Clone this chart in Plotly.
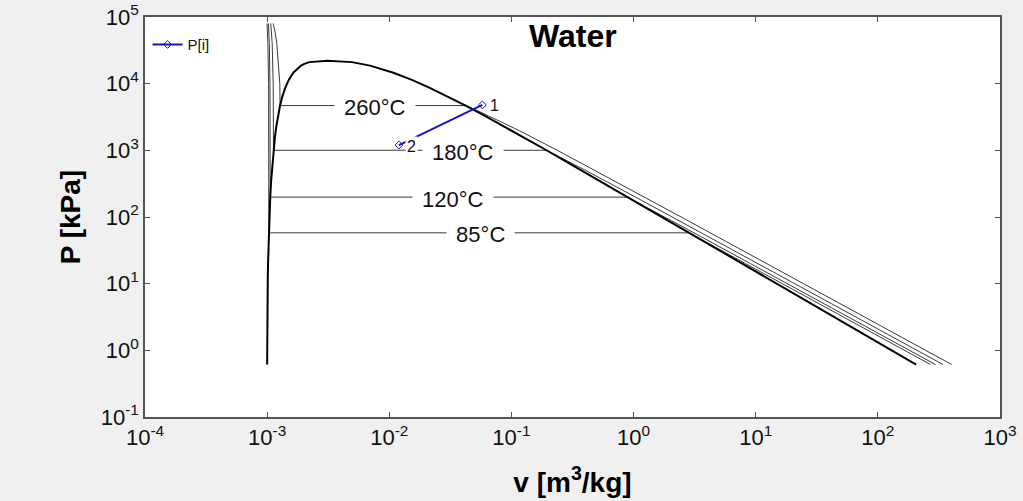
import math
import plotly.graph_objects as go

# ---------------- data ----------------
# Saturation table for water
sat_T = [0.01, 10, 20, 30, 40, 50, 60, 70, 80, 90, 100, 120, 140, 160, 180, 200,
         220, 240, 260, 280, 300, 320, 340, 360, 365, 370, 373.95]
sat_P = [0.6117, 1.2281, 2.3392, 4.2469, 7.3851, 12.352, 19.947, 31.202, 47.416,
         70.183, 101.42, 198.67, 361.53, 618.23, 1002.8, 1554.9, 2319.6, 3346.9,
         4692.3, 6416.6, 8587.9, 11284, 14601, 18666, 19822, 21044, 22064]
sat_vf = [0.001000, 0.001000, 0.001002, 0.001004, 0.001008, 0.001012, 0.001017,
          0.001023, 0.001029, 0.001036, 0.001043, 0.001060, 0.001080, 0.001102,
          0.001127, 0.001157, 0.001190, 0.001229, 0.001276, 0.001332, 0.001404,
          0.001499, 0.001638, 0.001895, 0.002015, 0.002217, 0.003106]
sat_vg = [206.0, 106.3, 57.76, 32.88, 19.515, 12.026, 7.6672, 5.0395, 3.4053,
          2.3593, 1.6720, 0.89133, 0.50850, 0.30706, 0.19384, 0.12721, 0.08609,
          0.05965, 0.04221, 0.03017, 0.02166, 0.01549, 0.01080, 0.006950,
          0.006009, 0.004953, 0.003106]

# Isotherms (v in m3/kg, P in kPa)
iso_85_P = [80000, 40000, 10000, 57.868, 57.868, 50, 20, 10, 5, 2, 1, 0.6117]
iso_85_v = [0.000998, 0.001014, 0.001028, 0.001032, 2.8261, 3.29, 8.25, 16.52,
            33.05, 82.6, 165.3, 270.2]
iso_120_P = [80000, 40000, 10000, 198.67, 198.67, 150, 100, 50, 20, 10, 5, 2, 1, 0.6117]
iso_120_v = [0.001025, 0.001042, 0.001055, 0.001060, 0.89133, 1.1884, 1.7922,
             3.617, 9.06, 18.13, 36.28, 90.7, 181.4, 296.6]
iso_180_P = [80000, 40000, 10000, 1002.8, 1002.8, 800, 500, 200, 100, 50, 20, 10,
             5, 2, 1, 0.6117]
iso_180_v = [0.00107, 0.00110, 0.001121, 0.001127, 0.19384, 0.2471, 0.4045,
             1.0322, 2.0783, 4.17, 10.44, 20.9, 41.8, 104.5, 209.1, 341.9]
iso_260_P = [80000, 60000, 40000, 20000, 10000, 4692.3, 4692.3, 4000, 3000, 2000,
             1000, 500, 200, 100, 50, 20, 10, 5, 2, 1, 0.6117]
iso_260_v = [0.00112, 0.00116, 0.00120, 0.00124, 0.00127, 0.001276, 0.04221,
             0.0517, 0.0728, 0.1143, 0.2378, 0.4841, 1.2224, 2.4528, 4.914,
             12.29, 24.59, 49.2, 123.0, 246.0, 402.2]

iso_labels = ["85°C", "120°C", "180°C", "260°C"]
iso_psat = [57.868, 198.67, 1002.8, 4692.3]

# State points P[i]
state_names = ["1", "2"]
state_v = [0.0578, 0.0120]
state_P = [4800, 1200]

x_tick_vals = [1e-4, 1e-3, 1e-2, 1e-1, 1e0, 1e1, 1e2, 1e3]
x_tick_text = ["10<sup>-4</sup>", "10<sup>-3</sup>", "10<sup>-2</sup>", "10<sup>-1</sup>",
               "10<sup>0</sup>", "10<sup>1</sup>", "10<sup>2</sup>", "10<sup>3</sup>"]
y_tick_vals = [1e-1, 1e0, 1e1, 1e2, 1e3, 1e4, 1e5]
y_tick_text = ["10<sup>-1</sup>", "10<sup>0</sup>", "10<sup>1</sup>", "10<sup>2</sup>",
               "10<sup>3</sup>", "10<sup>4</sup>", "10<sup>5</sup>"]

# label placement (layout only)
label_v = [0.0555, 0.0333, 0.0402, 0.00765]

# ---------------- figure ----------------
FONT = "Arial, Liberation Sans, sans-serif"
fig = go.Figure()

iso_sets = [(iso_85_v, iso_85_P), (iso_120_v, iso_120_P),
            (iso_180_v, iso_180_P), (iso_260_v, iso_260_P)]
for v, p in iso_sets:
    fig.add_trace(go.Scatter(x=v, y=p, mode="lines",
                             line=dict(color="#3a3a3a", width=1),
                             showlegend=False, hoverinfo="skip"))

dome_v = sat_vf + sat_vg[::-1]
dome_P = sat_P + sat_P[::-1]
fig.add_trace(go.Scatter(x=dome_v, y=dome_P, mode="lines",
                         line=dict(color="black", width=2),
                         showlegend=False, hoverinfo="skip"))

fig.add_trace(go.Scatter(x=state_v, y=state_P, mode="lines+markers", name="P[i]",
                         line=dict(color="#1414c8", width=2),
                         marker=dict(symbol="diamond-open", size=6, color="#1414c8",
                                     line=dict(width=1))))

annotations = []
for lab, v, p in zip(iso_labels, label_v, iso_psat):
    annotations.append(dict(x=math.log10(v), y=math.log10(p), xref="x", yref="y",
                            text="&nbsp;" + lab + "&nbsp;", showarrow=False,
                            font=dict(family=FONT, size=22, color="#111"),
                            bgcolor="white", borderpad=3, yshift=-2))
for name, v, p in zip(state_names, state_v, state_P):
    annotations.append(dict(x=math.log10(v), y=math.log10(p), xref="x", yref="y",
                            text=name, showarrow=False,
                            font=dict(family=FONT, size=16, color="#111"),
                            bgcolor="white", borderpad=1, xanchor="left",
                            xshift=6, yshift=-1))
annotations.append(dict(x=0.5, y=1, xref="paper", yref="paper", text="<b>Water</b>",
                        showarrow=False, yanchor="top", yshift=1,
                        font=dict(family=FONT, size=32, color="black")))

axis_common = dict(type="log", showgrid=False, zeroline=False, showline=True,
                   linecolor="#555", linewidth=1.5, mirror="ticks", ticks="inside",
                   ticklen=5, tickcolor="#555", automargin=False,
                   tickfont=dict(family=FONT, size=22, color="#111"))

fig.update_layout(
    width=1023, height=501,
    margin=dict(l=145, r=23, t=17, b=84, autoexpand=False),
    paper_bgcolor="#f0f0f0", plot_bgcolor="white",
    xaxis=dict(range=[-4, 3], tickvals=x_tick_vals, ticktext=x_tick_text,
               title=dict(text="<b>v [m<sup>3</sup>/kg]</b>", standoff=23,
                          font=dict(family=FONT, size=28, color="black")),
               **axis_common),
    yaxis=dict(range=[-1, 5], tickvals=y_tick_vals, ticktext=y_tick_text,
               title=dict(text="<b>P [kPa]</b>", standoff=12,
                          font=dict(family=FONT, size=28, color="black")),
               **axis_common),
    showlegend=True,
    legend=dict(x=0.003, y=0.972, xanchor="left", yanchor="top",
                bgcolor="rgba(0,0,0,0)", font=dict(family=FONT, size=15, color="#111"),
                itemwidth=30),
    annotations=annotations,
)

fig.write_html("out.html", config={"displayModeBar": False},
               post_script="document.body.style.margin='0px';"
                           "document.body.style.overflow='hidden';")
